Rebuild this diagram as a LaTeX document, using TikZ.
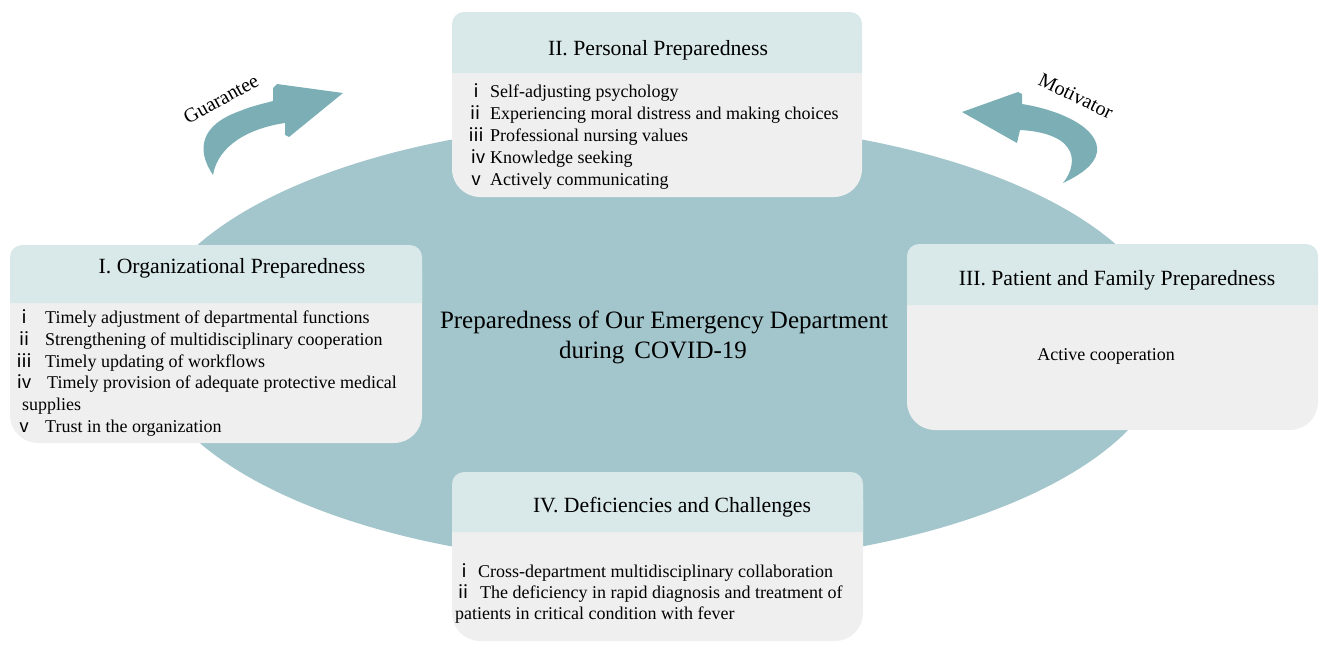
\documentclass[tikz,border=0pt]{standalone}
\usepackage{fontspec}
\setmainfont{Liberation Serif}
\newfontfamily\numfont{Noto Sans CJK SC}

\definecolor{ovalcol}{HTML}{A3C6CC}
\definecolor{arrowcol}{HTML}{7BAFB5}
\definecolor{headcol}{HTML}{D9E8E9}
\definecolor{bodycol}{HTML}{EFEFEF}

\tikzset{
  paneltitle/.style={font=\fontsize{21.7}{26}\selectfont, anchor=base, inner sep=0},
  itemtext/.style={font=\fontsize{18}{22}\selectfont, anchor=base west, inner sep=0},
  itemnum/.style={font=\numfont\fontsize{18}{22}\selectfont, anchor=base, inner sep=0},
  plaintext/.style={font=\fontsize{18}{22}\selectfont, anchor=base, inner sep=0},
  centretext/.style={font=\fontsize{25}{30}\selectfont, anchor=base, inner sep=0},
  arrowlabel/.style={font=\fontsize{20}{24}\selectfont, anchor=center, inner sep=0},
}

% panel: light body with rounded corners and a tinted header band
% #1,#2 top-left, #3,#4 bottom-right, #5 bottom of the header band
\newcommand\panel[5]{%
  \fill[bodycol, rounded corners=28pt] (#1,#2) rectangle (#3,#4);
  \fill[headcol] (#1,#5) [rounded corners=12pt] -- (#1,#2) -- (#3,#2)
        [sharp corners] -- (#3,#5) -- cycle;
}
% numbered entry: name, numeral, numeral x, text x, baseline y, text
\newcommand\entry[6]{%
  \node[itemnum] (#1n) at (#3,#5) {#2};
  \node[itemtext] (#1t) at (#4,#5) {#6};
}

\begin{document}
\begin{tikzpicture}[x=1pt, y=-1pt]
\useasboundingbox (0,0) rectangle (1319,653);

% central oval
\fill[ovalcol] (657,343) ellipse [x radius=512, y radius=222];

% curved arrows
\fill[arrowcol] (213,175) .. controls (196,150) and (200,125) .. (240,111)
  .. controls (252,106) and (262,104) .. (273,101)
  -- (273,88) -- (277,84) -- (343,93) -- (289,137) -- (285,135) -- (285,123)
  .. controls (250,128) and (218,145) .. (213,175) -- cycle;
\fill[arrowcol] (962,112) -- (1018,92) -- (1022,94) -- (1022,104)
  .. controls (1060,110) and (1100,128) .. (1097,152)
  .. controls (1095,165) and (1080,175) .. (1063,183)
  .. controls (1072,172) and (1075,158) .. (1068,148)
  .. controls (1060,136) and (1040,131) .. (1020,130)
  -- (1017,143) -- cycle;

\node[arrowlabel, rotate=29] (guar) at (221,99) {Guarantee};
\node[arrowlabel, rotate=-26] (motiv) at (1076,96) {Motivator};

% centre caption
\node[centretext] (cap1) at (664,328) {Preparedness of Our Emergency Department};
\node[centretext] (cap2) at (653,358) {during\hspace{10pt}COVID-19};

% I. organizational
\panel{10}{245}{422}{443}{303}
\node[paneltitle] (t1) at (232,273) {I. Organizational Preparedness};
\entry{oa}{ⅰ}{24}{45}{323}{Timely adjustment of departmental functions}
\entry{ob}{ⅱ}{24}{45}{345}{Strengthening of multidisciplinary cooperation}
\entry{oc}{ⅲ}{24}{45}{367}{Timely updating of workflows}
\entry{od}{ⅳ}{25}{47}{388}{Timely provision of adequate protective medical}
\node[itemtext] (od2) at (22,410) {supplies};
\entry{oe}{ⅴ}{25}{45}{432}{Trust in the organization}

% II. personal
\panel{452}{12}{862}{197}{73}
\node[paneltitle] (t2) at (658,55) {II. Personal Preparedness};
\entry{pa}{ⅰ}{476}{490}{97}{Self-adjusting psychology}
\entry{pb}{ⅱ}{475}{490}{119}{Experiencing moral distress and making choices}
\entry{pc}{ⅲ}{476}{490}{141}{Professional nursing values}
\entry{pd}{ⅳ}{478}{490}{163}{Knowledge seeking}
\entry{pe}{ⅴ}{476}{490}{185}{Actively communicating}

% III. patient and family
\panel{907}{244}{1318}{430}{305}
\node[paneltitle] (t3) at (1117,285) {III. Patient and Family Preparedness};
\node[plaintext] (fa) at (1106,360) {Active cooperation};

% IV. deficiencies
\panel{452}{472}{863}{641}{532}
\node[paneltitle] (t4) at (672,512) {IV. Deficiencies and Challenges};
\entry{da}{ⅰ}{464}{478}{577}{Cross-department multidisciplinary collaboration}
\entry{db}{ⅱ}{463}{480}{598}{The deficiency in rapid diagnosis and treatment of}
\node[itemtext] (db2) at (455,619) {patients in critical condition with fever};
\end{tikzpicture}
\end{document}
